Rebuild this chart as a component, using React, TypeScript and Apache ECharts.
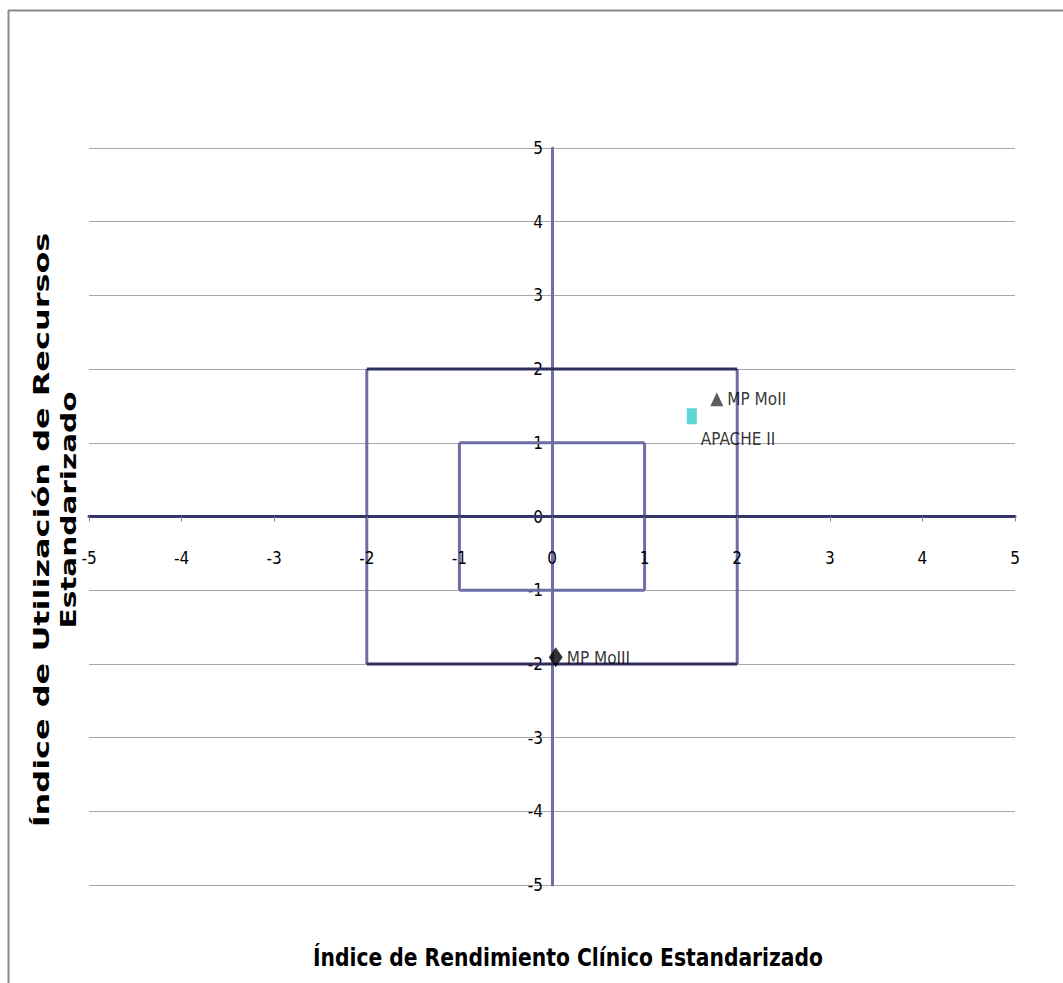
import React, { useEffect, useRef } from "react";
import * as echarts from "echarts";

// ---- data ----
const xRange = [-5, 5];
const yRange = [-5, 5];
const tickStep = 1;
const pointNames = ["MP MoII", "APACHE II", "MP MoIII"];
const pointX = [1.78, 1.51, 0.04];
const pointY = [1.59, 1.36, -1.91];
const outerBox = [-2, 2];
const innerBox = [-1, 1];
const xTitle = "Índice de Rendimiento Clínico Estandarizado";
const yTitleLines = ["Índice de Utilización de Recursos", "Estandarizado"];

// ---- styles ----
const NARROW = "'Liberation Sans Narrow', 'DejaVu Sans Condensed', sans-serif";
const W = 1063;
const H = 983;
const GRID = { left: 89, right: 48, top: 148, bottom: 98 };
const pointStyles = [
  { symbol: "triangle", size: [13, 14], color: "#333333", offset: [0, 0] },
  { symbol: "rect", size: [10, 16], color: "#33CCCC", offset: [0, 23] },
  { symbol: "diamond", size: [14, 20], color: "#000000", offset: [0, 1] },
];

function measure(text: string, font: string) {
  const c = document.createElement("canvas").getContext("2d")!;
  c.font = font;
  return c.measureText(text).width;
}

function hEdges(b: number[]) {
  return [[b[0], b[1]], [b[1], b[1]], "-", [b[0], b[0]], [b[1], b[0]]];
}
function vEdges(b: number[]) {
  return [[b[0], b[0]], [b[0], b[1]], "-", [b[1], b[0]], [b[1], b[1]]];
}

export default function App() {
  const ref = useRef<HTMLDivElement>(null);
  useEffect(() => {
    const chart = echarts.init(ref.current!, undefined, { renderer: "svg" });
    const yFont = "bold 21px 'DejaVu Sans', sans-serif";
    const xFont = "bold 24px " + NARROW;
    const y1Scale = 595 / measure(yTitleLines[0], yFont);
    const y2Scale = 237 / measure(yTitleLines[1], yFont);
    const xScale = 510 / measure(xTitle, xFont);
    const gridW = W - GRID.left - GRID.right;
    const gridH = H - GRID.top - GRID.bottom;
    // place each axis through the middle (value 0) of the plot
    const xOffset = -gridH * ((0 - yRange[0]) / (yRange[1] - yRange[0]));
    const yOffset = -gridW * ((0 - xRange[0]) / (xRange[1] - xRange[0]));

    const lineSeries = (data: any[], color: string) => ({
      type: "line",
      data,
      symbol: "none",
      connectNulls: false,
      lineStyle: { color, width: 3 },
      silent: true,
      z: 2,
    });

    chart.setOption({
      animation: false,
      grid: GRID,
      xAxis: {
        type: "value",
        min: xRange[0],
        max: xRange[1],
        interval: tickStep,
        position: "bottom",
        offset: xOffset,
        axisLine: { onZero: false, lineStyle: { color: "#35356C", width: 3 } },
        axisTick: { show: true, length: 5, lineStyle: { color: "#888888" } },
        axisLabel: { margin: 33, color: "#000", fontSize: 17, fontFamily: NARROW },
        splitLine: { show: false },
        z: 4,
      },
      yAxis: {
        type: "value",
        min: yRange[0],
        max: yRange[1],
        interval: tickStep,
        position: "left",
        offset: yOffset,
        axisLine: { onZero: false, lineStyle: { color: "#7070A8", width: 3 } },
        axisTick: { show: false },
        axisLabel: { margin: 9, color: "#000", fontSize: 17, fontFamily: NARROW },
        splitLine: { show: true, lineStyle: { color: "#A8A8A8", width: 1 } },
        z: 1,
      },
      series: [
        lineSeries(vEdges(outerBox), "#6E6EA6"),
        lineSeries(hEdges(outerBox), "#2E2E5C"),
        lineSeries(vEdges(innerBox), "#6E6EA6"),
        lineSeries(hEdges(innerBox), "#6E6EA6"),
        {
          type: "scatter",
          z: 5,
          data: pointNames.map((name, i) => ({
            name,
            value: [pointX[i], pointY[i]],
            symbol: pointStyles[i].symbol,
            symbolSize: pointStyles[i].size,
            itemStyle: { color: pointStyles[i].color },
            label: {
              show: true,
              position: "right",
              distance: 4,
              offset: pointStyles[i].offset,
              formatter: "{b}",
              color: "#000",
              fontSize: 17,
              fontFamily: NARROW,
            },
          })),
        },
      ],
      graphic: [
        { type: "line", shape: { x1: 8.5, y1: 10, x2: 8.5, y2: H }, style: { stroke: "#8A8A8A", lineWidth: 2 } },
        { type: "line", shape: { x1: 8, y1: 10.5, x2: W, y2: 10.5 }, style: { stroke: "#8A8A8A", lineWidth: 2 } },
        {
          type: "text",
          x: 42,
          y: 530,
          rotation: Math.PI / 2,
          scaleX: y1Scale,
          style: { text: yTitleLines[0], font: yFont, fill: "#000", align: "center", verticalAlign: "middle" },
        },
        {
          type: "text",
          x: 69,
          y: 510,
          rotation: Math.PI / 2,
          scaleX: y2Scale,
          style: { text: yTitleLines[1], font: yFont, fill: "#000", align: "center", verticalAlign: "middle" },
        },
        {
          type: "text",
          x: 568,
          y: 957,
          scaleX: xScale,
          style: { text: xTitle, font: xFont, fill: "#000", align: "center", verticalAlign: "middle" },
        },
      ],
    });
    return () => chart.dispose();
  }, []);
  return (
    <div
      ref={ref}
      style={{ position: "fixed", left: 0, top: 0, width: W, height: H, background: "#fff" }}
    />
  );
}
